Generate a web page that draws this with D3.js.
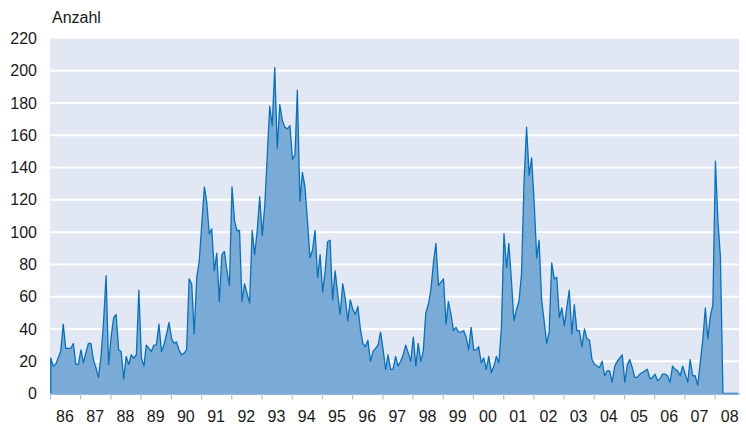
<!DOCTYPE html>
<html>
<head>
<meta charset="utf-8">
<script src="https://cdn.jsdelivr.net/npm/d3@7"></script>
<style>
  body { margin: 0; background: #fff; }
  svg text { font-family: "Liberation Sans", Arial, sans-serif; font-size: 16px; fill: #1a1a1a; }
</style>
</head>
<body>
<script>
// monthly counts (Jan..Dec)
const c1986 = [22,17,18,22,26,43,28,28,28,31,18,18]
const c1987 = [27,19,25,31,31,21,16,10,23,44,73,18]
const c1988 = [35,47,49,27,26,9,23,18,24,22,24,64]
const c1989 = [22,17,30,28,26,30,30,43,26,30,37,44]
const c1990 = [34,31,32,27,24,25,27,71,68,37,72,82]
const c1991 = [105,128,119,99,102,76,87,57,86,88,76,67]
const c1992 = [128,107,101,101,57,68,62,56,101,86,101,122]
const c1993 = [98,117,146,178,166,202,152,179,169,165,164,166]
const c1994 = [145,148,188,119,137,128,107,84,89,101,72,86]
const c1995 = [63,76,94,95,58,76,62,49,68,59,45,58]
const c1996 = [52,49,54,40,31,29,33,20,26,28,30,38]
const c1997 = [27,15,24,15,15,23,17,20,24,30,25,20]
const c1998 = [35,17,31,20,26,50,55,64,81,93,67,69]
const c1999 = [71,43,57,49,39,41,38,38,39,35,27,41]
const c2000 = [27,27,29,19,22,15,23,13,17,23,19,41]
const c2001 = [99,78,93,70,45,52,57,74,132,165,135,146]
const c2002 = [118,84,95,58,45,31,38,81,71,72,47,53]
const c2003 = [42,54,64,37,55,39,39,29,40,34,33,21]
const c2004 = [18,17,16,20,11,14,14,7,17,20,22,24]
const c2005 = [7,18,21,16,10,10,12,13,14,15,9,10]
const c2006 = [12,8,9,12,12,11,7,17,15,14,11,17]
const c2007 = [12,7,21,11,11,5,19,33,53,34,48,55]
const c2008 = [144,106,85,0,0,0,0,0,0,0]   // Jan..Oct

const years = d3.range(1986, 2009)
const counts = [c1986,c1987,c1988,c1989,c1990,c1991,c1992,c1993,c1994,c1995,c1996,c1997,
                c1998,c1999,c2000,c2001,c2002,c2003,c2004,c2005,c2006,c2007,c2008]
const yTicks = [0,20,40,60,80,100,120,140,160,180,200,220]
const yearLabels = ['86','87','88','89','90','91','92','93','94','95','96','97',
                    '98','99','00','01','02','03','04','05','06','07','08']

const W = 746, H = 427
const plot = {left: 50, right: 739, top: 38.5, bottom: 393.5}

const data = years.flatMap((yr, i) =>
  counts[i].map((v, m) => ({date: new Date(yr, m, 10), value: v})))

const x = d3.scaleTime()
    .domain([new Date(1986, 0, 1), new Date(2008, 9, 21)])
    .range([plot.left, plot.right])

const y = d3.scaleLinear()
    .domain([0, 220])
    .range([plot.bottom, plot.top])

const svg = d3.select('body').append('svg')
    .attr('width', W)
    .attr('height', H)

// plot background
svg.append('rect')
    .attr('x', plot.left)
    .attr('y', y(220))
    .attr('width', plot.right - plot.left)
    .attr('height', y(0) - y(220))
    .attr('fill', '#e1e8f3')

// white gridlines
svg.append('g')
  .selectAll('line')
  .data(yTicks.filter(d => d > 0 && d < 220))
  .join('line')
    .attr('x1', plot.left)
    .attr('x2', plot.right)
    .attr('y1', d => y(d))
    .attr('y2', d => y(d))
    .attr('stroke', '#fff')
    .attr('stroke-width', 2)

// area + outline
const area = d3.area()
    .x(d => x(d.date))
    .y0(y(0))
    .y1(d => y(d.value))

svg.append('path')
    .datum(data)
    .attr('d', area)
    .attr('fill', '#7aabd6')

const line = d3.line()
    .x(d => x(d.date))
    .y(d => y(d.value))

svg.append('path')
    .datum([{date: data[0].date, value: 0}, ...data])
    .attr('d', line)
    .attr('fill', 'none')
    .attr('stroke', '#0b70b9')
    .attr('stroke-width', 1.3)
    .attr('stroke-linejoin', 'round')

// x axis: ticks at year starts, labels centred in the year
const xAxis = d3.axisBottom(x)
    .ticks(d3.timeYear.every(1))
    .tickFormat('')
    .tickSize(6)
    .tickSizeOuter(0)

const gx = svg.append('g')
    .attr('transform', `translate(0,${y(0)})`)
    .call(xAxis)
gx.select('.domain').attr('stroke', '#6f9fd3').attr('stroke-width', 1.5)
gx.selectAll('.tick line').attr('stroke', '#a6c2e4').attr('stroke-width', 1.2)

svg.append('g')
  .selectAll('text')
  .data(years)
  .join('text')
    .attr('x', d => x(new Date(d, 6, 1)))
    .attr('y', 422)
    .attr('text-anchor', 'middle')
    .text((d, i) => yearLabels[i])

// y labels
svg.append('g')
  .selectAll('text')
  .data(yTicks)
  .join('text')
    .attr('x', 37)
    .attr('y', d => y(d))
    .attr('dy', '0.35em')
    .attr('text-anchor', 'end')
    .text(d => d)

svg.append('text')
    .attr('x', 52)
    .attr('y', 23)
    .text('Anzahl')
</script>
</body>
</html>
